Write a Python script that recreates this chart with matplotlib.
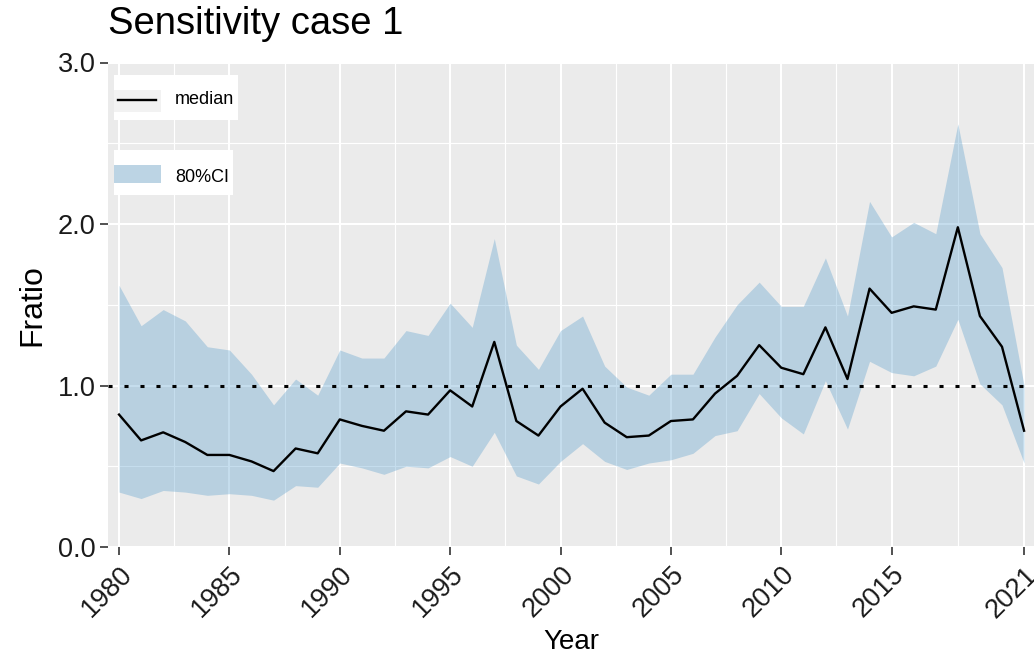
import matplotlib
matplotlib.use("Agg")
import matplotlib.pyplot as plt
from matplotlib.patches import Rectangle
from matplotlib.lines import Line2D
import numpy as np

plt.rcParams["font.family"] = ["Liberation Sans", "DejaVu Sans"]

# data
years = list(range(1980, 2022))
median = [0.82, 0.66, 0.71, 0.65, 0.57, 0.57, 0.53, 0.47, 0.61, 0.58,
          0.79, 0.75, 0.72, 0.84, 0.82, 0.97, 0.87, 1.27, 0.78, 0.69,
          0.87, 0.98, 0.77, 0.68, 0.69, 0.78, 0.79, 0.95, 1.06, 1.25,
          1.11, 1.07, 1.36, 1.04, 1.60, 1.45, 1.49, 1.47, 1.98, 1.43,
          1.24, 0.72]
upper = [1.62, 1.37, 1.47, 1.40, 1.24, 1.22, 1.07, 0.88, 1.04, 0.94,
         1.22, 1.17, 1.17, 1.34, 1.31, 1.51, 1.36, 1.91, 1.25, 1.10,
         1.34, 1.43, 1.12, 0.99, 0.94, 1.07, 1.07, 1.30, 1.50, 1.64,
         1.49, 1.49, 1.79, 1.43, 2.14, 1.92, 2.01, 1.94, 2.62, 1.94,
         1.73, 1.00]
lower = [0.34, 0.30, 0.35, 0.34, 0.32, 0.33, 0.32, 0.29, 0.38, 0.37,
         0.52, 0.49, 0.45, 0.50, 0.49, 0.56, 0.50, 0.71, 0.44, 0.39,
         0.53, 0.64, 0.53, 0.48, 0.52, 0.54, 0.58, 0.69, 0.72, 0.95,
         0.80, 0.70, 1.03, 0.73, 1.15, 1.08, 1.06, 1.12, 1.41, 1.01,
         0.88, 0.52]
ref_level = 1.0
x_breaks = [1980, 1985, 1990, 1995, 2000, 2005, 2010, 2015, 2021]
y_breaks = [0.0, 1.0, 2.0, 3.0]

W, H = 1034, 662
RIBBON = "#599ECC"
RIB_ALPHA = 0.35

fig = plt.figure(figsize=(W / 100, H / 100), dpi=100)
ax = fig.add_axes([108 / W, (H - 547) / H, (W - 108) / W, (547 - 62.5) / H])
ax.set_facecolor("#EBEBEB")
for s in ax.spines.values():
    s.set_visible(False)

ax.fill_between(years, lower, upper, color=RIBBON, alpha=RIB_ALPHA, lw=0, zorder=2)
ax.plot(years, median, color="black", lw=1.7, zorder=3)
ax.axhline(ref_level, color="black", lw=2.2, ls=(0, (1.33, 3.9)), zorder=4)

ax.set_xlim(1979.5, 2021.45)
ax.set_ylim(0, 3.0)

x_minor = [(a + b) / 2 for a, b in zip(x_breaks[:-1], x_breaks[1:])]
y_minor = [(a + b) / 2 for a, b in zip(y_breaks[:-1], y_breaks[1:])]
ax.set_xticks(x_breaks)
ax.set_xticks(x_minor, minor=True)
ax.set_yticks(y_breaks)
ax.set_yticks(y_minor, minor=True)
ax.set_xticklabels([str(y) for y in x_breaks], rotation=45, ha="right",
                   va="top", rotation_mode="anchor")
ax.set_yticklabels(["%.1f" % v for v in y_breaks])

ax.grid(which="major", color="white", lw=1.5)
ax.grid(which="minor", color="white", lw=0.8)
ax.set_axisbelow(True)
ax.tick_params(which="minor", length=0)
ax.tick_params(which="major", length=5.5, width=1.2, color="#333333",
               labelsize=19.5, labelcolor="#1A1A1A")
ax.tick_params(axis="x", pad=5)
ax.tick_params(axis="y", pad=3.5)

ax.set_xlabel("Year", fontsize=20)
ax.xaxis.set_label_coords(0.5, -0.17)
ax.set_ylabel("Fratio", fontsize=23)
ax.yaxis.set_label_coords(-0.066, 0.5)

fig.text(108 / W, 1 - 34 / H, "Sensitivity case 1", fontsize=27.5,
         ha="left", va="baseline")


# legend boxes (two separate guides, as in the original)
def fig_rect(x0, y0, x1, y1, **kw):
    fig.add_artist(Rectangle((x0 / W, 1 - y1 / H), (x1 - x0) / W, (y1 - y0) / H,
                             transform=fig.transFigure, lw=0, **kw))


fig_rect(114, 75, 238, 120, fc="white")
fig_rect(114, 90, 161, 112, fc="#F2F2F2")
fig.add_artist(Line2D([118 / W, 156 / W], [1 - 100 / H, 1 - 100 / H],
                      color="black", lw=1.7, transform=fig.transFigure))
fig.text(175 / W, 1 - 100 / H, "median", fontsize=13, va="center")

fig_rect(114, 150, 233, 195, fc="white")
fig_rect(114, 165, 161, 183, fc="#F2F2F2")
fig_rect(114, 165, 161, 183, fc=RIBBON, alpha=RIB_ALPHA)
fig.text(175 / W, 1 - 177 / H, "80%CI", fontsize=13, va="center")

fig.savefig("out.png", dpi=100)
